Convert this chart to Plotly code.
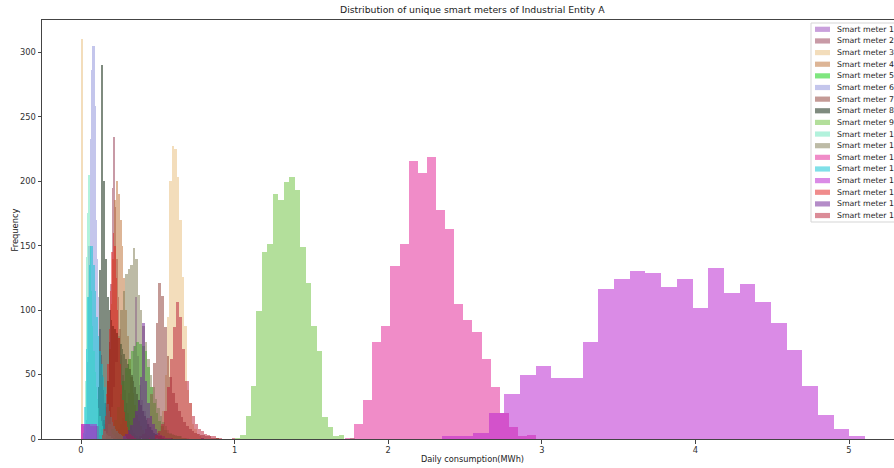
import plotly.graph_objects as go

# ---------------- data ----------------
meter_names = ["Smart meter 1", "Smart meter 2", "Smart meter 3", "Smart meter 4",
               "Smart meter 5", "Smart meter 6", "Smart meter 7", "Smart meter 8",
               "Smart meter 9", "Smart meter 10", "Smart meter 11", "Smart meter 12",
               "Smart meter 13", "Smart meter 14", "Smart meter 15", "Smart meter 16",
               "Smart meter 17"]

# upper end of each meter's histogram range (MWh); each histogram has 50 bins from 0
range_max = [0.70, 0.50, 0.80, 0.60, 0.90, 0.40, 0.90, 0.60, 1.785, 0.40,
             0.80, 2.963, 0.50, 5.104, 0.45, 0.80, 1.00]

counts_m1 = [0,0,0,0,0, 0,0,0,0,0, 0,0,0,0,0, 3,5,8,12,16, 22,28,36,48,72,
             110,64,42,30,22, 16,12,9,6,4, 3,2,1,1,1, 0,0,0,0,0, 0,0,0,0,1]
counts_m2 = [0,0,0,0,0, 0,0,0,0,0, 0,0,0,0,5, 12,25,45,75,120, 195,234,180,140,110,
             85,65,50,38,28, 20,14,10,7,5, 3,2,1,0,0, 0,0,0,0,0, 0,0,0,0,1]
counts_m3 = [310,0,0,0,0, 0,0,0,0,0, 0,0,0,0,0, 0,0,0,0,0, 0,0,0,0,0,
             0,0,0,1,2, 3,6,10,22,50, 95,200,227,225,203, 170,126,88,38,28, 12,8,4,2,1]
counts_m4 = [0,0,0,0,0, 0,0,0,0,0, 3,8,15,28,45, 70,105,140,185,200, 190,170,150,125,100,
             80,62,48,36,26, 19,14,10,7,5, 4,3,2,2,1, 0,0,0,0,0, 0,0,0,0,1]
counts_m5 = [0,0,0,0,0, 0,0,0,0,0, 3,8,15,25,35, 45,55,62,68,72, 75,74,72,68,56,
             40,28,20,14,10, 7,5,4,3,2, 2,1,1,0,0, 0,0,0,0,0, 0,0,0,0,1]
counts_m6 = [0,0,0,4,15, 60,150,233,286,305, 305,258,170,140,110, 85,65,50,38,28,
             20,15,11,8,6, 4,3,2,1,0, 0,0,0,0,0, 0,0,0,0,0, 0,0,0,0,0, 0,0,0,0,1]
counts_m7 = [0,0,0,0,0, 0,0,0,0,0, 0,0,0,0,0, 0,0,0,0,0, 0,2,4,8,16,
             35,59,90,121,111, 87,64,48,36,28, 22,17,13,10,8, 6,5,4,3,3, 2,2,1,1,1]
counts_m8 = [0,0,0,0,0, 0,0,0,10,40, 131,290,200,140,110, 100,92,88,85,82, 78,74,70,66,62,
             58,54,50,45,40, 35,30,26,22,18, 15,12,9,7,5, 4,3,2,2,1, 0,0,0,0,1]
counts_m9 = [0,0,0,0,0, 0,0,0,0,0, 0,0,0,0,0, 0,0,0,0,0, 0,0,0,0,0,
             0,0,0,1,3, 18,41,99,145,151, 190,185,199,203,193, 149,121,88,68,17, 9,2,3,0,1]
counts_m10 = [0,0,10,45,141, 175,205,150,115,88, 68,52,40,31,24, 18,14,10,8,6,
              4,3,2,2,1, 1,0,0,0,0, 0,0,0,0,0, 0,0,0,0,0, 0,0,0,0,0, 0,0,0,0,1]
counts_m11 = [0,0,0,0,0, 0,0,0,0,0, 5,12,25,40,60, 80,100,115,128,132, 135,148,140,112,100,
              88,75,62,50,40, 31,24,18,13,10, 7,5,4,3,2, 2,1,1,0,0, 0,0,0,0,1]
counts_m12 = [12,10,0,0,0, 0,0,0,0,0, 0,0,0,0,0, 0,0,0,0,0, 0,0,0,0,0,
              0,0,0,0,1, 12,30,75,88,134, 151,216,206,219,178, 163,105,92,83,62, 40,20,9,2,3]
counts_m13 = [0,5,25,70,110, 135,150,150,135,115, 95,80,68,58,48, 40,33,27,22,17,
              13,10,8,6,5, 4,3,2,2,1, 0,0,0,0,0, 0,0,0,0,0, 0,0,0,0,0, 0,0,0,0,1]
counts_m14 = [12,0,0,0,0, 0,0,0,0,0, 0,0,0,0,0, 0,0,0,0,0, 0,0,0,2,2,
              5,20,35,50,57, 47,47,75,116,124, 130,129,118,124,102, 133,113,120,106,90, 69,41,19,8,2]
counts_m15 = [0,0,0,0,0, 0,0,0,0,0, 0,0,0,0,0, 3,8,18,35,58, 85,115,145,160,150,
              125,100,78,58,42, 30,21,14,9,6, 4,3,2,1,1, 0,0,0,0,0, 0,0,0,0,1]
counts_m16 = [0,0,0,0,0, 0,0,0,0,0, 0,0,0,0,0, 0,0,2,4,7, 11,16,22,30,48,
              90,45,28,18,12, 8,5,3,2,1, 1,1,0,0,0, 0,0,0,0,0, 0,0,0,0,1]
counts_m17 = [0,0,0,0,0, 0,0,0,0,0, 0,0,0,0,0, 0,0,0,0,0, 0,0,0,0,3,
              6,12,22,40,62, 87,106,95,70,45, 28,18,12,8,6, 4,3,2,2,1, 1,0,0,0,1]

all_counts = [counts_m1, counts_m2, counts_m3, counts_m4, counts_m5, counts_m6,
              counts_m7, counts_m8, counts_m9, counts_m10, counts_m11, counts_m12,
              counts_m13, counts_m14, counts_m15, counts_m16, counts_m17]

x_ticks = [0, 1, 2, 3, 4, 5]
y_ticks = [0, 50, 100, 150, 200, 250, 300]

# ---------------- styles ----------------
# colours as they appear on white
visual_colors = ["#C9A0DC", "#C89AA6", "#F3DDBB", "#DDB596", "#6EE66E", "#C4C6EC",
                 "#C49A96", "#6E8B6E", "#B3DF9B", "#B2F2DC", "#BDBBA6", "#F08CC8",
                 "#80E0E8", "#DA8BE6", "#F08C8C", "#B48CC8", "#DB8C98"]
ALPHA = 0.5


def base_rgba(hexcol, a=ALPHA):
    h = hexcol.lstrip("#")
    vals = [int(h[i:i + 2], 16) for i in (0, 2, 4)]
    base = [max(0, min(255, round((v - (1 - a) * 255) / a))) for v in vals]
    return f"rgba({base[0]},{base[1]},{base[2]},{a})"


FONT = "DejaVu Sans"
W, H = 894, 468
L, R, T, B = 42, 0, 20, 29
PW, PH = W - L - R, H - T - B


def px_x(px):
    return (px - L) / PW


def px_y(py):
    return (H - B - py) / PH


fig = go.Figure()
for name, mx, counts, col in zip(meter_names, range_max, all_counts, visual_colors):
    n = len(counts)
    w = mx / n
    centers = [w * (i + 0.5) for i in range(n)]
    fig.add_trace(go.Bar(
        x=centers, y=counts, width=[w] * n, name=name,
        marker=dict(color=base_rgba(col), line=dict(width=0)),
        showlegend=False,
    ))

TICKFONT = dict(family=FONT, size=8.3, color="#333333")
fig.update_layout(
    width=W, height=H,
    margin=dict(l=L, r=R, t=T, b=B, pad=0),
    paper_bgcolor="white", plot_bgcolor="white",
    barmode="overlay", bargap=0, bargroupgap=0,
    font=dict(family=FONT, size=8.3, color="#333333"),
)
fig.update_xaxes(
    range=[-0.254, 5.293], tickvals=x_ticks, ticktext=[str(t) for t in x_ticks],
    ticks="outside", ticklen=3.5, tickwidth=1, tickcolor="#444444",
    showline=True, linecolor="#444444", linewidth=1, mirror=True,
    showgrid=False, zeroline=False, tickfont=TICKFONT,
)
fig.update_yaxes(
    range=[0, 325], tickvals=y_ticks, ticktext=[str(t) for t in y_ticks],
    ticks="outside", ticklen=3.5, tickwidth=1, tickcolor="#444444",
    showline=True, linecolor="#444444", linewidth=1,
    showgrid=False, zeroline=False, tickfont=TICKFONT,
)

annotations = [
    dict(text="Distribution of unique smart meters of Industrial Entity A",
         x=px_x(472.5), y=px_y(10), xref="paper", yref="paper",
         xanchor="center", yanchor="middle", showarrow=False,
         font=dict(family=FONT, size=9.3, color="#222222")),
    dict(text="Daily consumption(MWh)", x=px_x(472.5), y=px_y(459),
         xref="paper", yref="paper", xanchor="center", yanchor="middle",
         showarrow=False, font=dict(family=FONT, size=8.2, color="#222222")),
    dict(text="Frequency", x=px_x(14), y=px_y(229.5), xref="paper", yref="paper",
         xanchor="center", yanchor="middle", textangle=-90, showarrow=False,
         font=dict(family=FONT, size=8.3, color="#222222")),
]

shapes = [
    dict(type="rect", xref="paper", yref="paper",
         x0=px_x(811), x1=px_x(905), y0=px_y(222), y1=px_y(23),
         line=dict(color="#D5D5D5", width=1), fillcolor="rgba(255,255,255,0.85)",
         layer="above"),
]

# custom legend entries (compact, matplotlib-like)
leg_y0, leg_dy = 29.3, 11.64
for i, (name, col) in enumerate(zip(meter_names, visual_colors)):
    cy = leg_y0 + i * leg_dy
    shapes.append(dict(type="rect", xref="paper", yref="paper",
                       x0=px_x(815), x1=px_x(830), y0=px_y(cy + 2.6), y1=px_y(cy - 2.6),
                       line=dict(width=0), fillcolor=base_rgba(col), layer="above"))
    annotations.append(dict(text=name, x=px_x(835), y=px_y(cy), xref="paper", yref="paper",
                            xanchor="left", yanchor="middle", showarrow=False,
                            font=dict(family=FONT, size=7.8, color="#222222")))

fig.update_layout(annotations=annotations, shapes=shapes)

fig.write_html("out.html")
